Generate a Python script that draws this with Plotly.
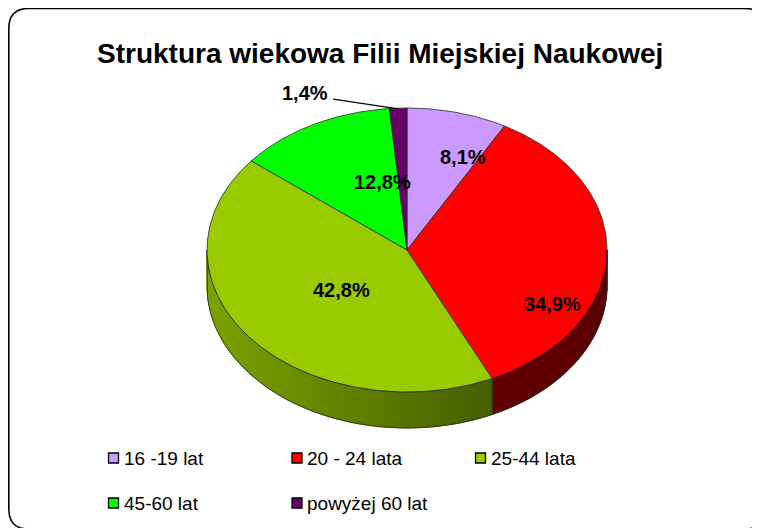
import numpy as np
import plotly.graph_objects as go

# ---------------- data ----------------
title_text = "Struktura wiekowa Filii Miejskiej Naukowej"
categories = ["16 -19 lat", "20 - 24 lata", "25-44 lata", "45-60 lat", "powyżej 60 lat"]
shares = [8.1, 34.9, 42.8, 12.8, 1.4]

# ---------------- style ----------------
top_colors = ["#CC99FF", "#FF0000", "#99CC00", "#00FF00", "#660066"]
side_base = [0.50, 0.40, 0.56, 0.50, 0.50]   # brightness of side wall
side_grad = [0.20, 0.04, 0.24, 0.20, 0.20]   # left-to-right gradient strength
label_r = [0.6, 0.6, 0.6, 0.6, 1.0]
label_nudge = [(26, -11), (26, 51), (29, -13), (32, 7), (-93, -15)]
FONT = "Liberation Sans, Arial, sans-serif"

# page body has an 8px margin: the figure is placed at (8, 8) in the window,
# so the data ranges are offset by the same amount (window pixel = data unit)
OFF = 8
W, H = 760 - OFF, 528 - OFF
CX, CY, RX, RY, DEPTH = 407, 250, 200, 142, 36


def hex_to_rgb(h):
    h = h.lstrip("#")
    return tuple(int(h[i:i + 2], 16) for i in (0, 2, 4))


def shade(hexcol, f):
    r, g, b = hex_to_rgb(hexcol)
    f = max(0.0, min(1.0, f))
    return "rgb(%d,%d,%d)" % (round(r * f), round(g * f), round(b * f))


def ell(theta_deg, r=1.0, dy=0.0):
    t = np.radians(theta_deg)
    return CX + r * RX * np.sin(t), CY - r * RY * np.cos(t) + dy


fig = go.Figure()

total = sum(shares)
bounds = np.concatenate([[0], np.cumsum(shares) / total * 360.0])

# ---- side walls (front half only, 90..270 deg) ----
for i in range(len(shares)):
    a, b = bounds[i], bounds[i + 1]
    lo, hi = max(a, 90.0), min(b, 270.0)
    if hi <= lo:
        continue
    n = max(1, int(np.ceil((hi - lo) / 2.0)))
    edges = np.linspace(lo, hi, n + 1)
    for k in range(n):
        t1, t2 = edges[k], edges[k + 1]
        tm = 0.5 * (t1 + t2)
        col = shade(top_colors[i], side_base[i] - side_grad[i] * np.sin(np.radians(tm)))
        ts = np.linspace(t1, t2, 3)
        xt, yt = ell(ts)
        xb, yb = ell(ts[::-1], dy=DEPTH)
        xs = np.concatenate([xt, xb, xt[:1]])
        ys = np.concatenate([yt, yb, yt[:1]])
        fig.add_trace(go.Scatter(x=xs, y=ys, mode="lines", fill="toself",
                                 fillcolor=col, line=dict(color=col, width=1),
                                 hoverinfo="skip", showlegend=False))
    # outline of this side wall
    ts = np.linspace(lo, hi, 80)
    xt, yt = ell(ts)
    xb, yb = ell(ts[::-1], dy=DEPTH)
    xs = np.concatenate([xt, xb, xt[:1]])
    ys = np.concatenate([yt, yb, yt[:1]])
    fig.add_trace(go.Scatter(x=xs, y=ys, mode="lines",
                             line=dict(color="#2a2a2a", width=0.8),
                             hoverinfo="skip", showlegend=False))

# ---- top wedges ----
for i in range(len(shares)):
    a, b = bounds[i], bounds[i + 1]
    ts = np.linspace(a, b, max(3, int((b - a) * 1.5)))
    xa, ya = ell(ts)
    xs = np.concatenate([[CX], xa, [CX]])
    ys = np.concatenate([[CY], ya, [CY]])
    fig.add_trace(go.Scatter(x=xs, y=ys, mode="lines", fill="toself",
                             fillcolor=top_colors[i],
                             line=dict(color="#2a2a2a", width=0.8),
                             name=categories[i], hoverinfo="name", showlegend=False))

# ---- data labels ----
for i, v in enumerate(shares):
    mid = 0.5 * (bounds[i] + bounds[i + 1])
    lx, ly = ell(mid, r=label_r[i])
    dx, dy = label_nudge[i]
    txt = ("%.1f" % v).replace(".", ",") + "%"
    fig.add_annotation(x=lx + dx, y=ly + dy, text="<b>%s</b>" % txt, showarrow=False,
                       xanchor="center", yanchor="middle",
                       font=dict(family=FONT, size=20, color="black"))
    if label_r[i] >= 1.0:
        ex, ey = ell(mid, r=0.995)
        fig.add_trace(go.Scatter(x=[lx + dx + 28, ex], y=[ly + dy + 6, ey], mode="lines",
                                 line=dict(color="black", width=1.2),
                                 hoverinfo="skip", showlegend=False))

# ---- legend (manual, 3 per row) ----
LEG_X0, LEG_DX, LEG_Y0, LEG_DY, NCOL = 113.5, 183.5, 458, 45, 3
for i, cat in enumerate(categories):
    col, row = i % NCOL, i // NCOL
    x = LEG_X0 + col * LEG_DX
    y = LEG_Y0 + row * LEG_DY
    fig.add_trace(go.Scatter(x=[x], y=[y], mode="markers",
                             marker=dict(symbol="square", size=10, color=top_colors[i],
                                         line=dict(color="black", width=1.3)),
                             hoverinfo="skip", showlegend=False))
    fig.add_annotation(x=x + 8, y=y, text=cat, showarrow=False, xanchor="left",
                       yanchor="middle", font=dict(family=FONT, size=19, color="black"))

# ---- title ----
fig.add_annotation(x=380, y=53, text="<b>%s</b>" % title_text, showarrow=False,
                   xanchor="center", yanchor="middle",
                   font=dict(family=FONT, size=28, color="black"))

# ---- rounded frame ----
x0, y0, x1, y1, r = OFF + 0.8, OFF + 0.5, 765, 529, 20
path = (f"M {x0 + r},{y0} L {x1 - r},{y0} Q {x1},{y0} {x1},{y0 + r} "
        f"L {x1},{y1 - r} Q {x1},{y1} {x1 - r},{y1} L {x0 + r},{y1} "
        f"Q {x0},{y1} {x0},{y1 - r} L {x0},{y0 + r} Q {x0},{y0} {x0 + r},{y0} Z")
fig.add_shape(type="path", path=path, xref="x", yref="y",
              line=dict(color="black", width=1.6), layer="below")

fig.update_layout(
    width=W, height=H,
    margin=dict(l=0, r=0, t=0, b=0),
    paper_bgcolor="white", plot_bgcolor="white",
    xaxis=dict(range=[OFF, OFF + W], visible=False, fixedrange=True),
    yaxis=dict(range=[OFF + H, OFF], visible=False, fixedrange=True),
    showlegend=False,
)

fig.write_html("out.html")
